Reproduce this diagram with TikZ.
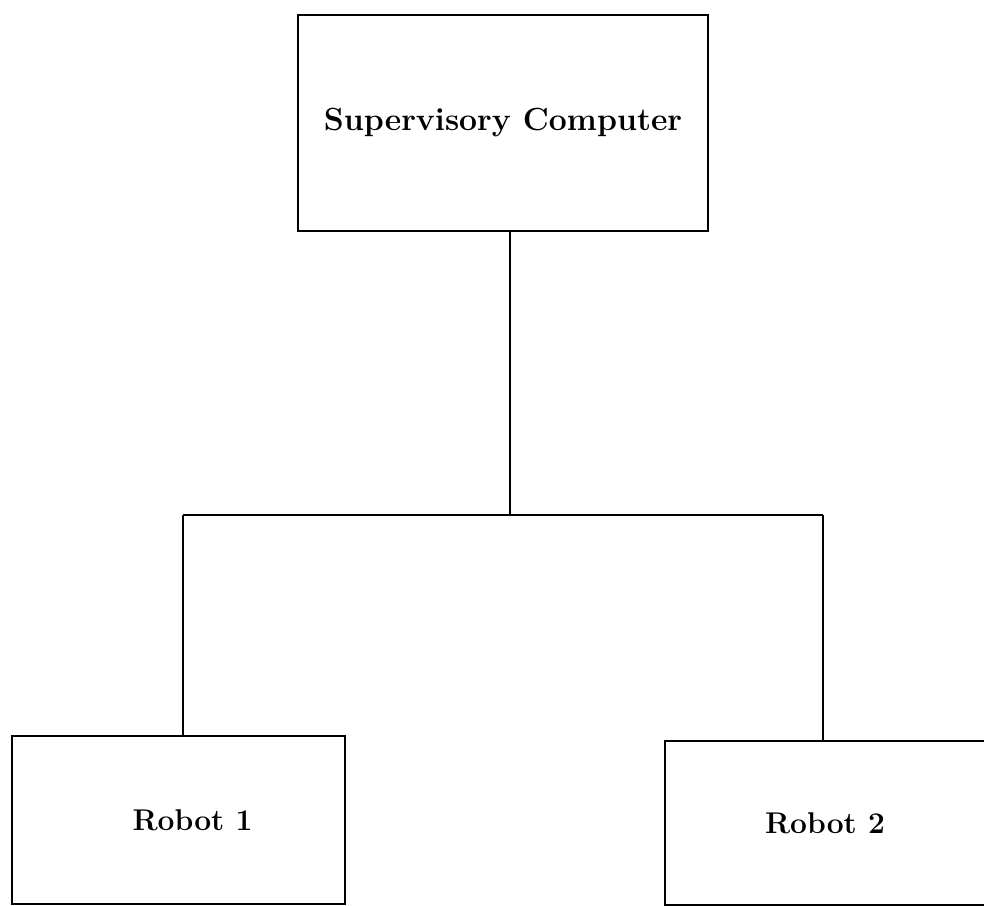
\documentclass[tikz,border=0pt]{standalone}
\tikzset{
  unitbox/.style={draw,line width=2.7pt,inner sep=0pt,font=\fontsize{30}{36}\selectfont\bfseries},
  wire/.style={line width=2.7pt}
}
\begin{document}
\begin{tikzpicture}[x=1pt,y=-1pt]
  % 画布
  \useasboundingbox (0,0) rectangle (984,905);
  % 方框
  \node[unitbox,minimum width=410pt,minimum height=216pt,font=\fontsize{32}{38}\selectfont\bfseries] (sup) at (503,123) {Supervisory Computer\\[10pt]};
  \node[unitbox,minimum width=333pt,minimum height=168pt,align=center] (robotA) at (178.5,820) {\hspace{28pt}Robot 1};
  \node[unitbox,minimum width=320pt,minimum height=164pt] (robotB) at (825,823) {Robot 2};
  % 总线
  \coordinate (busL) at (183,515);
  \coordinate (busM) at (510,515);
  \coordinate (busR) at (823,515);
  % 连线
  \draw[wire] (sup.south -| busM) -- (busM);
  \draw[wire] (busL) -- (busR);
  \draw[wire] (busL) -- (busL |- robotA.north);
  \draw[wire] (busR) -- (busR |- robotB.north);
\end{tikzpicture}
\end{document}
